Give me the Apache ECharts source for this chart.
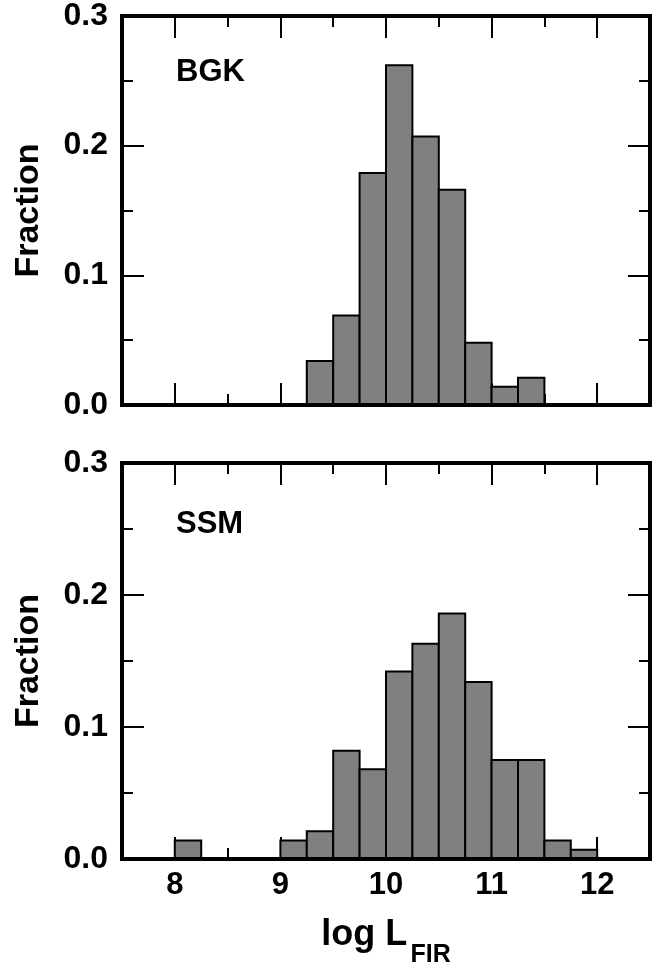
<!DOCTYPE html>
<html>
<head>
<meta charset="utf-8">
<script src="https://cdn.jsdelivr.net/npm/echarts@6/dist/echarts.min.js"></script>
<style>
html,body{margin:0;padding:0;background:#fff;}
#chart{width:664px;height:970px;}
</style>
</head>
<body>
<div id="chart"></div>
<script>
// ---- data ----
const binWidth = 0.25;
const bgkBins = [9.25, 9.5, 9.75, 10.0, 10.25, 10.5, 10.75, 11.0, 11.25];
const bgkFrac = [0.034, 0.069, 0.179, 0.262, 0.207, 0.166, 0.048, 0.014, 0.021];
const ssmBins = [8.0, 9.0, 9.25, 9.5, 9.75, 10.0, 10.25, 10.5, 10.75, 11.0, 11.25, 11.5, 11.75];
const ssmFrac = [0.014, 0.014, 0.021, 0.082, 0.068, 0.142, 0.163, 0.186, 0.134, 0.075, 0.075, 0.014, 0.007];
const xTickLabels = [8, 9, 10, 11, 12];
const panelNames = ['BGK', 'SSM'];

const FONT = '"Liberation Sans", Arial, Helvetica, sans-serif';
const chart = echarts.init(document.getElementById('chart'), null, {renderer: 'canvas'});

const grids = [
  {left: 122, right: 14, top: 12, height: 393},
  {left: 122, right: 14, top: 463, height: 396}
];

function gridOpt(g) {
  return Object.assign({show: true, borderColor: '#000', borderWidth: 4, backgroundColor: 'transparent', z: 5}, g);
}

const xAxes = [];
const yAxes = [];
[0, 1].forEach(gi => {
  ['bottom', 'top'].forEach(pos => {
    // minor ticks every 0.5
    xAxes.push({
      type: 'value', gridIndex: gi, position: pos, min: 7.5, max: 12.5, interval: 0.5,
      axisLine: {show: false}, splitLine: {show: false},
      axisTick: {show: true, inside: true, length: 11, lineStyle: {color: '#000', width: 2}},
      axisLabel: {
        show: gi === 1 && pos === 'bottom',
        margin: 11,
        color: '#000', fontFamily: FONT, fontWeight: 'bold', fontSize: 31,
        formatter: v => (xTickLabels.indexOf(v) >= 0 ? String(v) : '')
      },
      name: (gi === 1 && pos === 'bottom') ? '{a|log L} {b|FIR}' : '',
      nameLocation: 'middle', nameGap: 58,
      nameTextStyle: {
        color: '#000', fontFamily: FONT, fontWeight: 'bold',
        rich: {
          a: {fontSize: 36, fontFamily: FONT, fontWeight: 'bold', color: '#000', verticalAlign: 'bottom', padding: [0, 0, 15, 0]},
          b: {fontSize: 25, fontFamily: FONT, fontWeight: 'bold', color: '#000', verticalAlign: 'bottom'}
        }
      }
    });
    // major ticks at integers
    xAxes.push({
      type: 'value', gridIndex: gi, position: pos, min: 7.5, max: 12.5, interval: 0.5,
      axisLine: {show: false}, splitLine: {show: false},
      axisTick: {show: true, inside: true, length: 22, customValues: xTickLabels, lineStyle: {color: '#000', width: 2}},
      axisLabel: {show: false}
    });
  });
  ['left', 'right'].forEach(pos => {
    yAxes.push({
      type: 'value', gridIndex: gi, position: pos, min: 0, max: 0.3, interval: 0.1,
      axisLine: {show: false}, splitLine: {show: false},
      axisTick: {show: true, inside: true, length: 22, lineStyle: {color: '#000', width: 2}},
      minorTick: {show: true, splitNumber: 2, length: 11, lineStyle: {color: '#000', width: 2}},
      axisLabel: {
        show: pos === 'left', margin: 14, padding: [12, 0, 0, 0],
        color: '#000', fontFamily: FONT, fontWeight: 'bold', fontSize: 32,
        formatter: v => v.toFixed(1)
      },
      name: pos === 'left' ? 'Fraction' : '',
      nameLocation: 'middle', nameRotate: 90, nameGap: 76,
      nameTextStyle: {color: '#000', fontFamily: FONT, fontWeight: 'bold', fontSize: 34}
    });
  });
});

function histSeries(bins, vals, xi, yi) {
  return {
    type: 'custom',
    xAxisIndex: xi, yAxisIndex: yi,
    data: bins.map((b, i) => [b, vals[i]]),
    z: 3,
    renderItem: (params, api) => {
      const x0 = api.value(0), v = api.value(1);
      const p0 = api.coord([x0, v]);
      const p1 = api.coord([x0 + binWidth, 0]);
      return {
        type: 'rect',
        shape: {x: p0[0], y: p0[1], width: p1[0] - p0[0], height: p1[1] - p0[1]},
        style: {fill: '#808080', stroke: '#000', lineWidth: 2}
      };
    }
  };
}

const option = {
  backgroundColor: '#fff',
  animation: false,
  title: [
    {text: panelNames[0], left: 176, top: 57, padding: 0, textStyle: {fontFamily: FONT, fontWeight: 'bold', fontSize: 31, color: '#000'}},
    {text: panelNames[1], left: 176, top: 509, padding: 0, textStyle: {fontFamily: FONT, fontWeight: 'bold', fontSize: 31, color: '#000'}}
  ],
  grid: grids.map(gridOpt),
  xAxis: xAxes,
  yAxis: yAxes,
  series: [
    histSeries(bgkBins, bgkFrac, 0, 0),
    histSeries(ssmBins, ssmFrac, 4, 2)
  ]
};
chart.setOption(option);
</script>
</body>
</html>
